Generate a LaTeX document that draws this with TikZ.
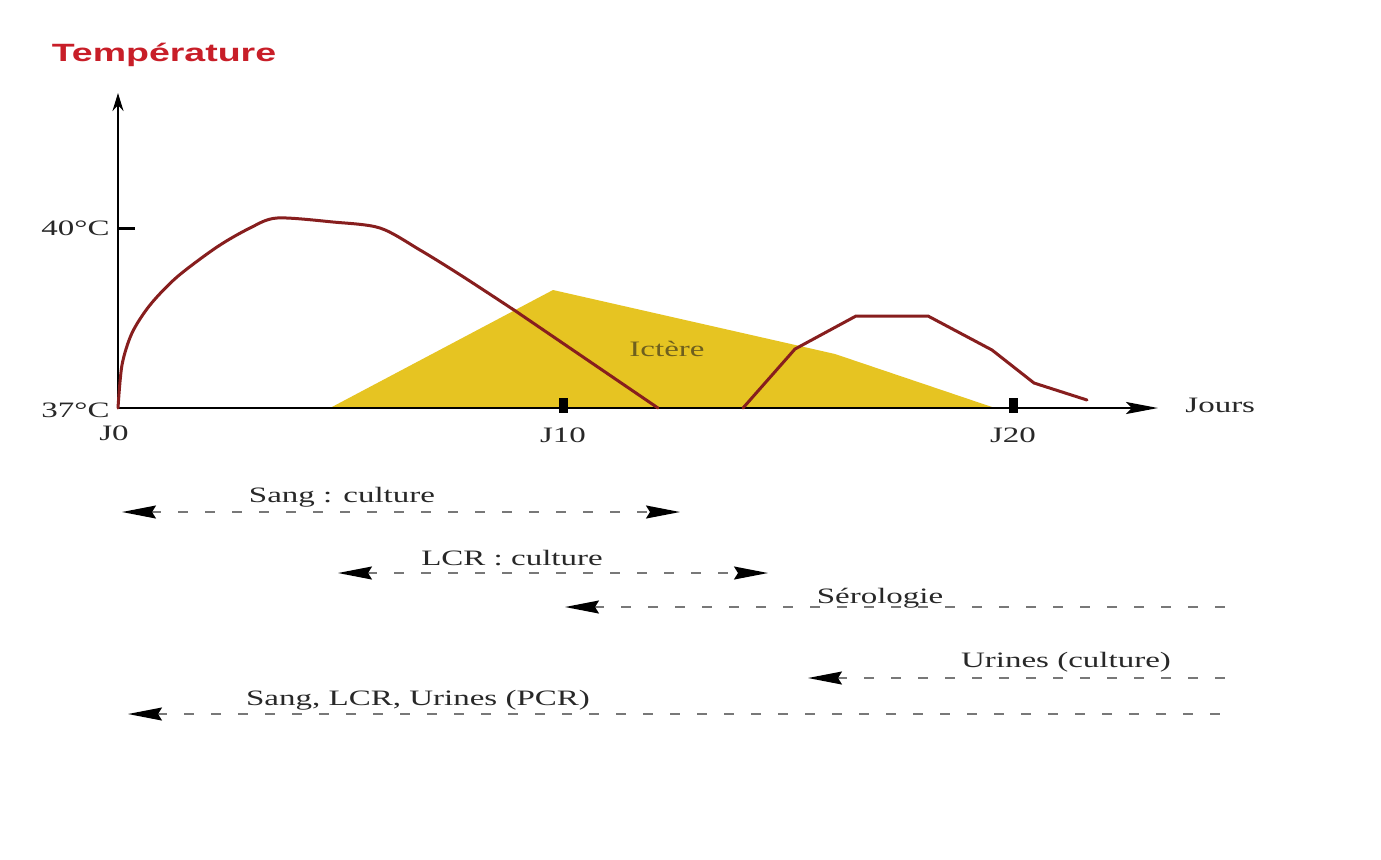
\documentclass[tikz,border=0pt]{standalone}
\usepackage{fontspec}
\setmainfont{Liberation Serif}
\newfontfamily\titlefont{Liberation Sans}
\usetikzlibrary{arrows.meta}
\definecolor{curvered}{RGB}{135,30,30}
\definecolor{ictere}{RGB}{230,196,34}
\definecolor{ictlabel}{RGB}{110,95,30}
\definecolor{titlered}{RGB}{200,30,40}
\definecolor{dashgray}{RGB}{120,120,120}
\definecolor{labelgray}{RGB}{40,40,40}
\newcommand{\wtxt}[1]{\scalebox{1.5}[1]{#1}}
\tikzset{
  lbl/.style={font=\fontsize{11}{13}\selectfont, text=labelgray, inner sep=0pt},
  axisline/.style={line width=1.2pt, black},
  fever/.style={line width=1.5pt, curvered, line join=round, line cap=round},
  period/.style={dashgray, line width=0.8pt, dash pattern=on 5pt off 8.5pt},
  bighead/.tip={Stealth[length=17pt,width=6.5pt,inset=2pt,black]},
  tickmark/.style={rectangle, fill=black, minimum width=4.5pt, minimum height=7.5pt, inner sep=0pt}
}
\begin{document}
\begin{tikzpicture}[x=0.5pt,y=-0.5pt]
\useasboundingbox (0,0) rectangle (1381,859);
\fill[white] (0,0) rectangle (1381,859);

% title
\node[font=\titlefont\bfseries\fontsize{12.5}{14}\selectfont, text=titlered, inner sep=0pt] (title) at (164,55) {\wtxt{Température}};

% jaundice area
\fill[ictere] (330,408) -- (553,290) -- (835,354) -- (995,408) -- cycle;
\node[lbl, text=ictlabel] (ict) at (667,349) {\wtxt{Ictère}};

% axes
\coordinate (O) at (118,408);
\coordinate (ytop) at (118,93);
\coordinate (xend) at (1158,408);
\draw[axisline, -{Stealth[length=9pt,width=5.5pt]}] (O) -- (ytop);
\draw[axisline, -{Stealth[length=16pt,width=6pt,inset=3pt]}] (O) -- (xend);
\node[lbl, anchor=west] (jours) at (1185,405) {\wtxt{Jours}};

% ticks
\coordinate (t40a) at (118,228);
\coordinate (t40b) at (135,228);
\draw[axisline, line width=1.5pt] (t40a) -- (t40b);
\node[tickmark] (t10) at (563,405) {};
\node[tickmark] (t20) at (1013,405) {};

% axis labels
\node[lbl, anchor=east] (l40) at (110,228) {\wtxt{40°C}};
\node[lbl, anchor=east] (l37) at (110,410) {\wtxt{37°C}};
\node[lbl] (j0) at (114,433) {\wtxt{J0}};
\node[lbl] (j10) at (563,435) {\wtxt{J10}};
\node[lbl] (j20) at (1013,435) {\wtxt{J20}};

% fever curve
\draw[fever] plot[smooth, tension=0.5] coordinates {(118,408) (122,365) (132,333) (150,305) (177,277) (217,247) (250,228) (277,218) (333,222) (380,228) (420,250) (462,276) (517,312)}
  -- (658,408);
\draw[fever] (743,408) -- (795,349) -- (856,316) -- (928,316) -- (992,350) -- (1034,383) -- (1087,400);

% sampling periods
\node[lbl] (sang) at (342,497) {\wtxt{Sang : culture}};
\coordinate (sangL) at (122,512);
\coordinate (sangR) at (680,512);
\draw[period, {bighead}-{bighead}] (sangL) -- (sangR);

\node[lbl] (lcr) at (512,558) {\wtxt{LCR : culture}};
\coordinate (lcrL) at (338,573);
\coordinate (lcrR) at (768,573);
\draw[period, {bighead}-{bighead}] (lcrL) -- (lcrR);

\node[lbl] (sero) at (880,598) {\wtxt{Sérologie}};
\coordinate (seroL) at (565,607);
\coordinate (seroR) at (1225,607);
\draw[period, {bighead}-] (seroL) -- (seroR);

\node[lbl] (urin) at (1066,662) {\wtxt{Urines (culture)}};
\coordinate (urinL) at (808,678);
\coordinate (urinR) at (1225,678);
\draw[period, {bighead}-] (urinL) -- (urinR);

\node[lbl] (pcr) at (418,700) {\wtxt{Sang, LCR, Urines (PCR)}};
\coordinate (pcrL) at (128,714);
\coordinate (pcrR) at (1225,714);
\draw[period, {bighead}-] (pcrL) -- (pcrR);
\end{tikzpicture}
\end{document}
